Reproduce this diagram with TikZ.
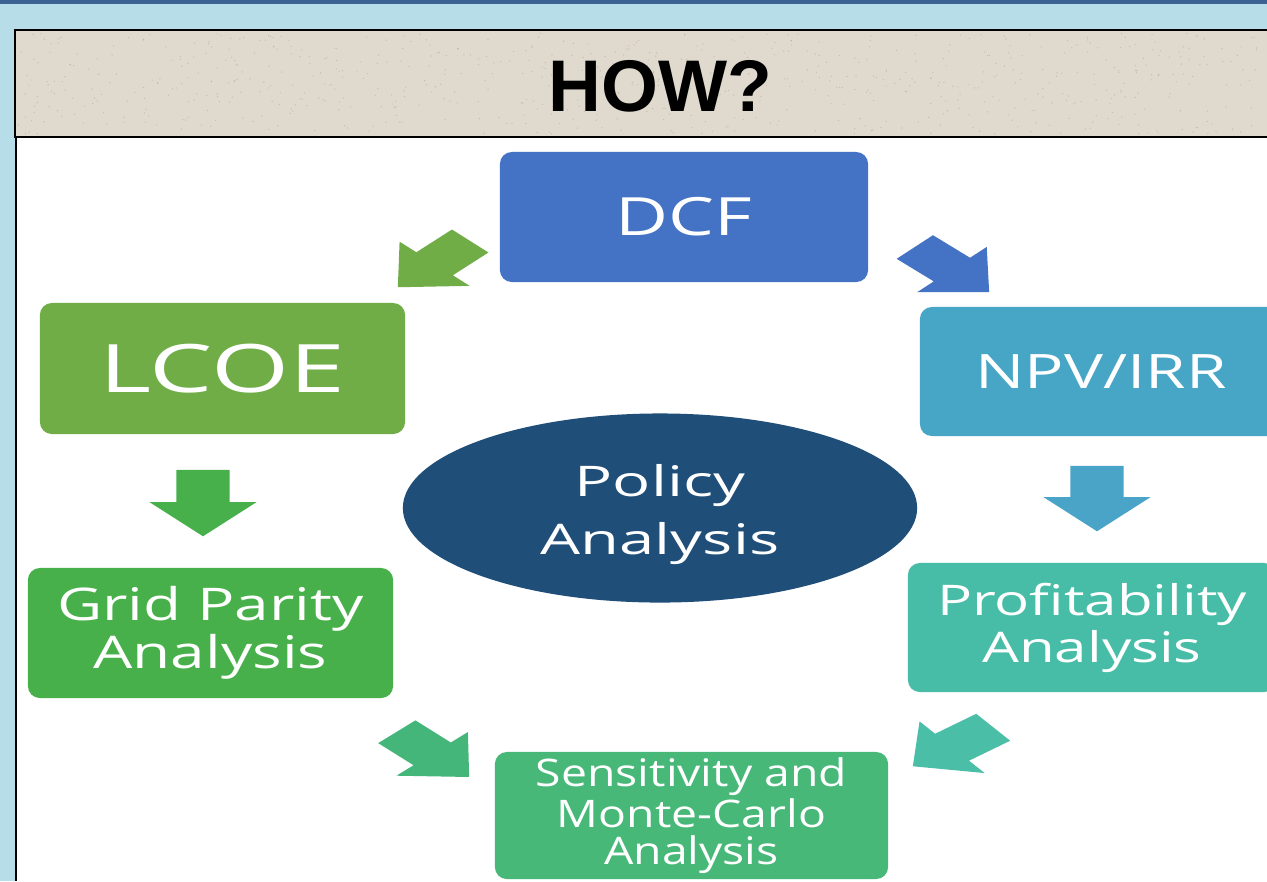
\documentclass[tikz,border=0pt]{standalone}
\usepackage{fontspec}
\newfontfamily\boxfont[FakeStretch=1.38]{Open Sans}
\newfontfamily\wideboxfont[FakeStretch=1.5]{Open Sans}
\newfontfamily\smallboxfont[FakeStretch=1.22]{Open Sans}
\newfontfamily\headfont{Liberation Sans}
\usetikzlibrary{calc,shapes.geometric}

\definecolor{topbar}{HTML}{3C6293}
\definecolor{skyback}{HTML}{B7DDE8}
\definecolor{sand}{HTML}{E0D9CD}
\definecolor{speck}{HTML}{A99E8C}
\definecolor{dcfblue}{HTML}{4472C4}
\definecolor{lcoegreen}{HTML}{70AD47}
\definecolor{npvblue}{HTML}{47A5C6}
\definecolor{policyblue}{HTML}{1F4E79}
\definecolor{gridgreen}{HTML}{48B04A}
\definecolor{profteal}{HTML}{47BDA7}
\definecolor{sensgreen}{HTML}{47B878}
\definecolor{downblue}{HTML}{49A4C8}
\definecolor{sensarrow}{HTML}{45B67A}
\definecolor{profarrow}{HTML}{4BBEA8}

\tikzset{
  box/.style={rounded corners=0.12cm, inner sep=0pt, text=white, align=center},
  % filled block arrow: shaft width, head width, head length, slant
  block/.style n args={4}{to path={
      let \p1=(\tikztostart), \p2=(\tikztotarget),
          \n1={atan2(\y2-\y1,\x2-\x1)}, \n2={veclen(\x2-\x1,\y2-\y1)}
      in [shift={(\p1)}, rotate=\n1, xslant=#4]
      (0pt,#1/2) -- (\n2*1pt-#3,#1/2) -- (\n2*1pt-#3,#2/2) -- (\n2*1pt,0pt)
      -- (\n2*1pt-#3,-#2/2) -- (\n2*1pt-#3,-#1/2) -- (0pt,-#1/2) -- cycle}},
  diagarrow/.style={block={11.1pt}{21.3pt}{12.4pt}{#1}},
  downarrow/.style={block={15.1pt}{30.4pt}{9.7pt}{0}}
}

\begin{document}
\begin{tikzpicture}[x=0.01cm, y=-0.01cm]
            \useasboundingbox (0,0) rectangle (1267,881);

            % slide background and title banner
            \fill[skyback] (0,0) rectangle (1267,881);
            \fill[topbar] (0,0) rectangle (1267,4);
            \fill[white] (16,137) rectangle (1267,881);
            \draw[line width=0.02cm] (16,137) -- (16,881);
            \fill[sand] (15,30) rectangle (1267,137);
            \pgfmathsetseed{11}
            \foreach \i in {1,...,700}
                \fill[speck, opacity=0.45] ({18+1246*rnd},{33+101*rnd}) circle (0.7);
            \draw[line width=0.02cm] (1270,30) -- (15,30) -- (15,137) -- (1270,137);
            \node[font=\headfont\bfseries\fontsize{20.8}{24}\selectfont] (how) at (660,86) {HOW?};

            % boxes
            \node[box, fill=dcfblue, minimum width=3.68cm, minimum height=1.30cm,
                font=\boxfont\fontsize{15}{18}\selectfont] (dcf) at (684,217) {DCF};
            \node[box, fill=lcoegreen, minimum width=3.65cm, minimum height=1.31cm,
                font=\wideboxfont\fontsize{19}{22}\selectfont] (lcoe) at (222.5,368.5) {LCOE};
            \node[box, fill=npvblue, minimum width=3.62cm, minimum height=1.29cm,
                font=\boxfont\fontsize{13.5}{17}\selectfont] (npv) at (1101,371.5) {NPV/IRR};
            \node[ellipse, fill=policyblue, minimum width=5.14cm, minimum height=1.89cm,
                inner sep=0pt, text=white, align=center,
                font=\wideboxfont\fontsize{12}{16.5}\selectfont] (policy) at (660,508)
                {\rule{0pt}{13pt}Policy\\Analysis};
            \node[box, fill=gridgreen, minimum width=3.65cm, minimum height=1.30cm,
                font=\boxfont\fontsize{12.8}{13.7}\selectfont] (grid) at (210.5,633) {Grid Parity\\Analysis};
            \node[box, fill=profteal, minimum width=3.68cm, minimum height=1.29cm,
                font=\boxfont\fontsize{12}{13.4}\selectfont] (prof) at (1092,627.5) {Profitability\\Analysis};
            \node[box, fill=sensgreen, minimum width=3.93cm, minimum height=1.27cm,
                font=\smallboxfont\fontsize{10.8}{10.6}\selectfont] (sens) at (691.5,815.5) {Sensitivity and\\Monte-Carlo\\Analysis};

            % block arrows
            \fill[lcoegreen] ($(dcf.west)+(-29,24)$) to[diagarrow=-0.47] ($(lcoe.north east)+(-8,-15)$);
            \fill[dcfblue] ($(dcf.east)+(46,30)$) to[diagarrow=0.48] ($(npv.north west)+(70,-14)$);
            \fill[gridgreen] ($(lcoe.south)+(-19.5,35)$) to[downarrow] ($(grid.north)+(-7.5,-31)$);
            \fill[downblue] ($(npv.south)+(-4,29)$) to[downarrow] ($(prof.north)+(5,-31)$);
            \fill[sensarrow] ($(grid.south east)+(3,33)$) to[diagarrow=0.5] ($(sens.west)+(-25,-38.5)$);
            \fill[profarrow] ($(prof.south west)+(86,34.5)$) to[diagarrow=-0.48] ($(sens.north east)+(24,15)$);
        \end{tikzpicture}
\end{document}
